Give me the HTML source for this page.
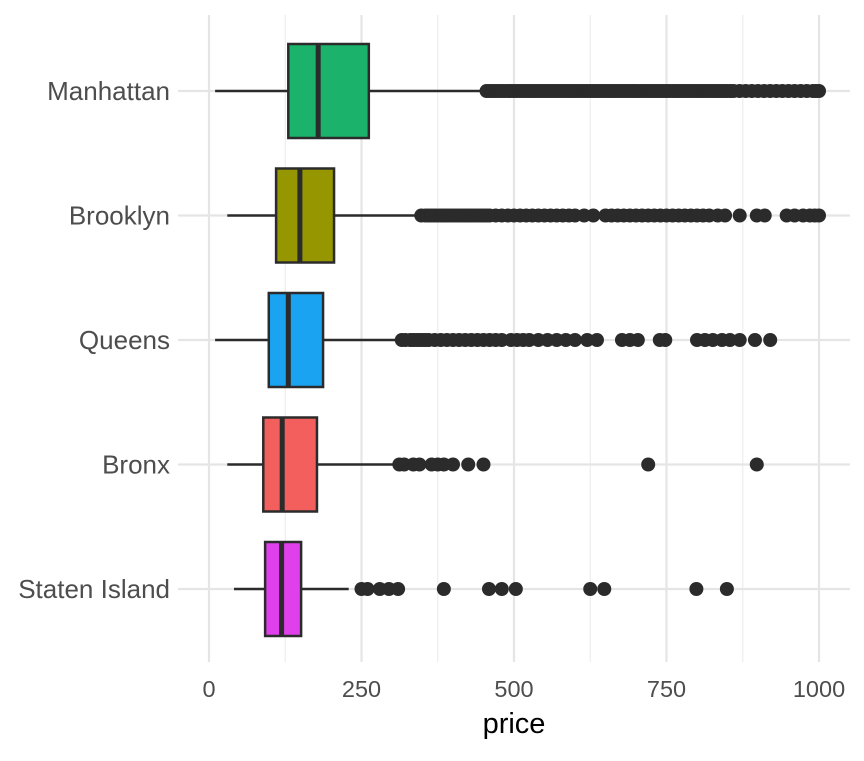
<!DOCTYPE html>
<html><head><meta charset="utf-8"><style>
body{margin:0;background:#fff;}
svg text{font-family:"Liberation Sans",sans-serif;}
</style></head><body>
<svg id="chart" width="864" height="756"></svg>
<script>
const categories=["Manhattan","Brooklyn","Queens","Bronx","Staten Island"];
const colors=["#1bb36b","#969600","#1aa3f0","#f25f5c","#e040ec"];
const whiskerLow=[10,30,10,30,41];
const q1=[130,110,98,89,92];
const medians=[179,149,130,120,119];
const q3=[262,205,187,177,151];
const whiskerHigh=[454,345,313,305,229];
const outManhattan=[455,460,465,470,475,480,485,490,495,500,505,510,515,520,525,530,535,540,545,550,555,560,565,570,575,580,585,590,595,600,605,610,615,620,625,630,635,640,645,650,655,660,665,670,675,680,685,690,695,700,705,710,715,720,725,730,735,740,745,750,755,760,765,770,775,780,785,790,795,800,805,810,815,820,825,830,835,840,845,850,855,860,870,880,890,900,910,920,930,940,950,960,970,980,990,995,1000];
const outBrooklyn=[348,355,360,365,370,375,380,385,390,395,400,405,410,415,420,425,430,435,440,445,450,455,460,470,480,490,500,510,520,530,540,550,560,570,580,590,600,615,630,650,660,670,680,690,700,710,720,730,740,750,760,770,780,790,800,810,820,834,846,870,898,911,947,960,974,985,993,1000];
const outQueens=[316,322,330,335,340,345,350,355,360,370,380,390,400,410,420,430,440,450,460,470,480,495,505,515,525,540,555,570,585,600,620,636,677,690,703,739,748,800,813,826,841,854,870,895,920];
const outBronx=[312,320,335,345,365,375,385,400,425,450,720,898];
const outStaten=[250,260,280,295,310,385,459,480,503,625,648,799,849];
const outliers=[outManhattan,outBrooklyn,outQueens,outBronx,outStaten];
const xTicks=[0,250,500,750,1000];

const NS="http://www.w3.org/2000/svg";
const svg=document.getElementById('chart');
const xs=v=>209+v*0.61;
const ys=i=>91+i*124.5;
function mk(tag,attrs,parent){const e=document.createElementNS(NS,tag);for(const k in attrs)e.setAttribute(k,attrs[k]);(parent||svg).appendChild(e);return e;}
const grid=mk('g',{});


[125,375,625,875].forEach(v=>{mk('line',{x1:xs(v),x2:xs(v),y1:15,y2:662,stroke:'#ebebeb','stroke-width':1.1},grid);});
xTicks.forEach(v=>{mk('line',{x1:xs(v),x2:xs(v),y1:15,y2:662,stroke:'#e5e5e5','stroke-width':2.2},grid);});
categories.forEach((c,i)=>{mk('line',{x1:178,x2:850,y1:ys(i),y2:ys(i),stroke:'#e5e5e5','stroke-width':2.2},grid);});
categories.forEach((c,i)=>{
  const g=mk('g',{});
  
  
  const y=ys(i);
  mk('line',{x1:xs(whiskerLow[i]),x2:xs(q1[i]),y1:y,y2:y,stroke:'#2b2b2b','stroke-width':2.5},g);
  mk('line',{x1:xs(q3[i]),x2:xs(whiskerHigh[i]),y1:y,y2:y,stroke:'#2b2b2b','stroke-width':2.5},g);
  mk('rect',{x:xs(q1[i]),y:y-47,width:xs(q3[i])-xs(q1[i]),height:94,fill:colors[i],stroke:'#2b2b2b','stroke-width':2.5},g);
  mk('line',{x1:xs(medians[i]),x2:xs(medians[i]),y1:y-47,y2:y+47,stroke:'#2b2b2b','stroke-width':5},g);
  outliers[i].forEach(v=>{mk('circle',{cx:xs(v),cy:y,r:7,fill:'#2b2b2b'},g);});
  const t=mk('text',{x:170,y:y+9,'text-anchor':'end','font-size':26,fill:'#4d4d4d'});
  t.textContent=c;
  
  
});
xTicks.forEach(v=>{
  const t=mk('text',{x:xs(v),y:697,'text-anchor':'middle','font-size':23.5,fill:'#4d4d4d'});
  t.textContent=v;
  
  
});
const xt=mk('text',{x:514,y:733,'text-anchor':'middle','font-size':29,fill:'#000'});
xt.textContent='price';


</script>
</body></html>
